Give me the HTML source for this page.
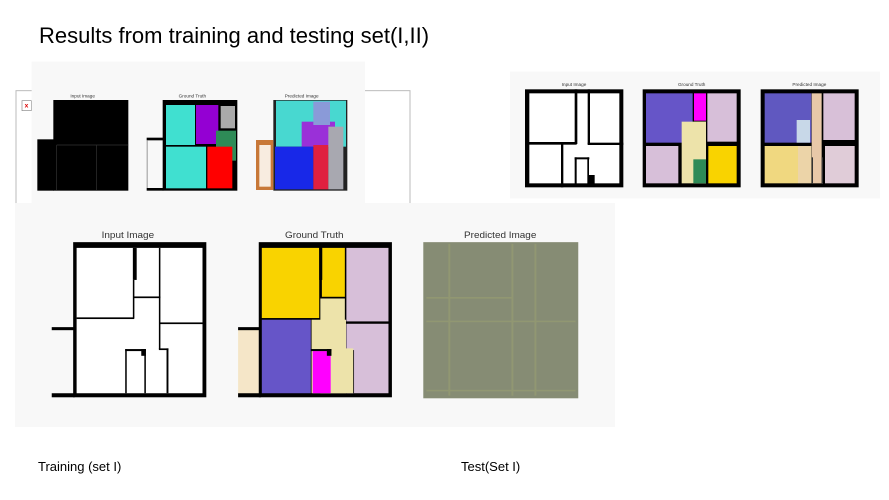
<!DOCTYPE html>
<html><head><meta charset="utf-8"><style>
body{margin:0;width:889px;height:500px;background:#fff;position:relative;overflow:hidden;font-family:"Liberation Sans",sans-serif}
.t{position:absolute;white-space:nowrap;color:#000}
svg{position:absolute}
</style></head><body>
<div class="t" style="left:39px;top:23px;font-size:22px;">Results from training and testing set(I,II)</div>

<svg style="left:0;top:60px" width="420" height="150" viewBox="0 0 1260 450" preserveAspectRatio="none" font-family="Liberation Sans,sans-serif">
<rect x="48" y="92" width="1182" height="340" fill="#fff" stroke="#bbb" stroke-width="3"/>
<rect x="66" y="122" width="28" height="30" fill="#fff" stroke="#888" stroke-width="2"/>
<text x="74" y="143" font-size="20" fill="#d00" font-weight="bold">x</text>
<rect x="95" y="5" width="1000" height="425" fill="#f8f8f8"/>
<g font-size="14" fill="#333" text-anchor="middle"><text x="248" y="112">Input Image</text><text x="577" y="112">Ground Truth</text><text x="905" y="112">Predicted Image</text></g>
<rect x="160" y="120" width="225" height="272" fill="#000"/><rect x="112" y="238" width="50" height="154" fill="#000"/>
<g stroke="#333" stroke-width="2"><line x1="170" y1="255" x2="385" y2="255"/><line x1="170" y1="255" x2="170" y2="390"/><line x1="290" y1="255" x2="290" y2="390"/></g>
<rect x="488" y="120" width="224" height="272" fill="#000"/>
<rect x="440" y="233" width="50" height="8" fill="#000"/><rect x="440" y="384" width="50" height="8" fill="#000"/><rect x="440" y="241" width="3" height="143" fill="#999"/>
<rect x="498" y="135" width="87" height="120" fill="#40e0d0"/><rect x="588" y="135" width="67" height="117" fill="#9400d3"/><rect x="662" y="138" width="43" height="67" fill="#aaa"/><rect x="648" y="212" width="60" height="90" fill="#2e8b57"/><rect x="498" y="260" width="120" height="125" fill="#40e0d0"/><rect x="622" y="260" width="75" height="125" fill="#f00"/>
<rect x="820" y="120" width="222" height="272" fill="#222"/>
<rect x="828" y="122" width="210" height="138" fill="#48d8d0"/>
<rect x="905" y="185" width="100" height="75" fill="#9a30d8"/><rect x="940" y="125" width="50" height="70" fill="#8a9ad8"/>
<rect x="825" y="260" width="115" height="128" fill="#1828e8"/><rect x="940" y="255" width="45" height="133" fill="#e02040"/><rect x="985" y="200" width="45" height="188" fill="#a8a8b0"/>
<rect x="768" y="240" width="52" height="150" fill="#c87838"/><rect x="778" y="255" width="34" height="125" fill="#f8ece0"/>
</svg>

<svg style="left:510px;top:70px" width="370" height="130" viewBox="0 0 1110 390" preserveAspectRatio="none" font-family="Liberation Sans,sans-serif">
<rect x="0" y="5" width="1110" height="380" fill="#f8f8f8"/>
<g font-size="14" fill="#333" text-anchor="middle"><text x="192" y="48">Input Image</text><text x="545" y="48">Ground Truth</text><text x="898" y="48">Predicted Image</text></g>
<g>
<rect x="45" y="58" width="295" height="294" fill="#000"/><rect x="58" y="70" width="270" height="270" fill="#fff"/>
<g fill="#000"><rect x="194" y="58" width="8" height="164"/><rect x="45" y="216" width="155" height="8"/><rect x="233" y="58" width="7" height="164"/><rect x="233" y="218" width="107" height="7"/><rect x="153" y="218" width="7" height="134"/><rect x="194" y="262" width="44" height="6"/><rect x="194" y="262" width="6" height="80"/><rect x="236" y="315" width="18" height="30"/><rect x="232" y="262" width="5" height="80"/></g></g>
<g>
<rect x="398" y="58" width="294" height="294" fill="#000"/>
<rect x="408" y="70" width="140" height="148" fill="#6655c8"/><rect x="552" y="70" width="36" height="82" fill="#f0f"/><rect x="592" y="70" width="88" height="145" fill="#d7bfd9"/>
<rect x="515" y="155" width="73" height="185" fill="#ede3aa"/><rect x="552" y="155" width="36" height="185" fill="#ede3aa"/>
<rect x="408" y="228" width="97" height="112" fill="#d7bfd9"/><rect x="550" y="268" width="38" height="72" fill="#2e8b57"/><rect x="595" y="228" width="85" height="112" fill="#f9d300"/></g>
<g>
<rect x="752" y="58" width="294" height="294" fill="#000"/>
<rect x="764" y="70" width="140" height="148" fill="#6058c0"/><rect x="860" y="150" width="40" height="68" fill="#c8d8e8"/>
<rect x="905" y="70" width="30" height="270" fill="#e8c8a8"/><rect x="940" y="70" width="94" height="140" fill="#d8c0d8"/>
<rect x="764" y="228" width="100" height="112" fill="#f0d880"/><rect x="864" y="228" width="40" height="112" fill="#ecd4a8"/><rect x="945" y="228" width="89" height="112" fill="#e0ccd8"/>
<rect x="905" y="262" width="4" height="80" fill="#333"/><rect x="935" y="262" width="4" height="80" fill="#333"/></g>
</svg>

<svg style="left:15px;top:200px" width="600" height="230" viewBox="0 0 1568 682" preserveAspectRatio="none" font-family="Liberation Sans,sans-serif">
<rect x="0" y="9" width="1568" height="664" fill="#f8f8f8"/>
<g font-size="26" fill="#333" text-anchor="middle"><text x="295" y="113">Input Image</text><text x="782" y="113">Ground Truth</text><text x="1268" y="113">Predicted Image</text></g>
<g>
<rect x="152" y="125" width="348" height="460" fill="#000"/><rect x="161" y="142" width="329" height="431" fill="#fff"/>
<g fill="#000"><rect x="96" y="573" width="60" height="12"/><rect x="96" y="377" width="60" height="9"/>
<rect x="308" y="142" width="10" height="95"/><rect x="308" y="237" width="4" height="115"/><rect x="161" y="348" width="150" height="5"/><rect x="310" y="286" width="70" height="5"/>
<rect x="376" y="142" width="4" height="300"/><rect x="378" y="363" width="112" height="5"/><rect x="376" y="440" width="25" height="5"/><rect x="396" y="440" width="5" height="133"/>
<rect x="288" y="442" width="54" height="6"/><rect x="288" y="442" width="4" height="131"/><rect x="338" y="442" width="4" height="131"/><rect x="330" y="442" width="12" height="20"/></g></g>
<g>
<rect x="583" y="385" width="54" height="195" fill="#f5e6c8"/>
<rect x="637" y="125" width="348" height="460" fill="#000"/>
<rect x="645" y="142" width="150" height="208" fill="#f9d300"/><rect x="802" y="142" width="60" height="145" fill="#f9d300"/><rect x="866" y="142" width="110" height="218" fill="#d7bfd9"/>
<rect x="798" y="292" width="64" height="281" fill="#ede3aa"/><rect x="775" y="355" width="90" height="218" fill="#ede3aa"/>
<rect x="645" y="355" width="128" height="218" fill="#6655c8"/><rect x="866" y="367" width="110" height="206" fill="#d7bfd9"/>
<rect x="862" y="440" width="22" height="133" fill="#ede3aa"/><rect x="884" y="445" width="2" height="128" fill="#000"/>
<rect x="778" y="448" width="47" height="125" fill="#f0f"/>
<g fill="#000"><rect x="583" y="377" width="60" height="9"/><rect x="583" y="573" width="60" height="12"/><rect x="795" y="142" width="8" height="95"/><rect x="773" y="442" width="54" height="6"/><rect x="815" y="442" width="12" height="20"/></g></g>
<g>
<rect x="1067" y="125" width="405" height="463" fill="#868c74"/>
<g stroke="#a8ac70" stroke-width="5" opacity="0.35"><line x1="1135" y1="130" x2="1135" y2="580"/><line x1="1300" y1="130" x2="1300" y2="580"/><line x1="1360" y1="130" x2="1360" y2="580"/><line x1="1075" y1="360" x2="1465" y2="360"/><line x1="1075" y1="290" x2="1300" y2="290"/><line x1="1075" y1="565" x2="1465" y2="565"/></g></g>
</svg>

<div class="t" style="left:38px;top:459px;font-size:13px;">Training (set I)</div>
<div class="t" style="left:461px;top:459px;font-size:13px;">Test(Set I)</div>
</body></html>
